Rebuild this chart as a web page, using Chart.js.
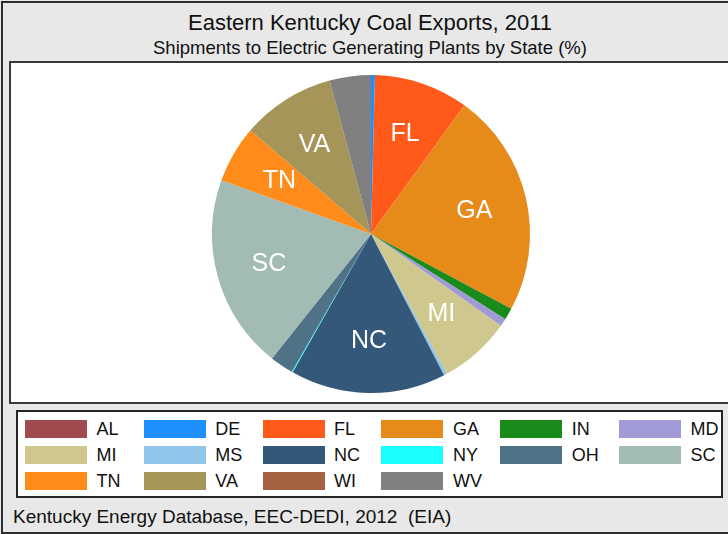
<!DOCTYPE html>
<html>
<head>
<meta charset="utf-8">
<script src="https://cdn.jsdelivr.net/npm/chart.js@4"></script>
<style>
	body { margin: 0; width: 728px; height: 534px; overflow: hidden; background: #e8e8e8; position: relative; font-family: "Liberation Sans", Arial, sans-serif; color: #111; }
	.frame { position: absolute; left: 1px; top: 1px; width: 760px; height: 529px; border: 2px solid #2e2e2e; }
	.txt { position: absolute; white-space: nowrap; }
	#title { left: 0; width: 740px; top: 12px; font-size: 22px; line-height: 22px; text-align: center; }
	#subtitle { left: 0; width: 740px; top: 39px; font-size: 18.5px; line-height: 18.5px; text-align: center; }
	.plot { position: absolute; left: 9px; top: 61px; width: 760px; height: 339px; border: 2px solid #3a3a3a; background: #fff; }
	#wrap { position: absolute; left: 11px; top: 63px; width: 720px; height: 339px; }
	.legend { position: absolute; left: 16px; top: 410px; width: 703px; height: 84px; border: 2px solid #262626; background: #fff; }
	.swatch { position: absolute; width: 62px; height: 18px; }
	.lab { position: absolute; font-size: 18px; line-height: 18px; }
	#footer { left: 13px; top: 507px; font-size: 19px; line-height: 19px; }
</style>
</head>
<body>
	<div class="frame"></div>
	<div class="txt" id="title">Eastern Kentucky Coal Exports, 2011</div>
	<div class="txt" id="subtitle">Shipments to Electric Generating Plants by State (%)</div>
	<div class="plot"></div>
	<div id="wrap"><canvas id="myChart"></canvas></div>
	<div class="legend"></div>
	<div id="legend-items"></div>
	<div class="txt" id="footer">Kentucky Energy Database, EEC-DEDI, 2012&nbsp;&nbsp;(EIA)</div>

<script>
	// states in legend / slice order (clockwise from 12 o'clock)
	const states = ['AL', 'DE', 'FL', 'GA', 'IN', 'MD', 'MI', 'MS', 'NC', 'NY', 'OH', 'SC', 'TN', 'VA', 'WI', 'WV'];
	// share of shipments, percent
	const shares = [0, 0.4, 9.6, 22.8, 1.2, 0.8, 7.3, 0.3, 15.8, 0.1, 2.4, 19.8, 5.8, 9.5, 0, 4.2];
	const stateColors = ['#a04a50', '#1e8fff', '#ff5a1a', '#e68a1a', '#1a8a1a', '#a09ad6', '#cfc88e', '#91c6ea',
		'#33587a', '#1affff', '#4f7287', '#a2bbb5', '#ff8c1a', '#a69558', '#a66242', '#808080'];

	const labelMin = 5; // only slices this big get a name inside

	// slice names, drawn at 2/3 of the radius
	const sliceLabels = {
		id: 'sliceLabels',
		afterDatasetsDraw(chart) {
			const ctx = chart.ctx;
			const meta = chart.getDatasetMeta(0);
			ctx.save();
			ctx.fillStyle = '#fff';
			ctx.font = '25px "Liberation Sans", Arial, sans-serif';
			ctx.textAlign = 'center';
			ctx.textBaseline = 'middle';
			meta.data.forEach((arc, i) => {
				if (shares[i] < labelMin) return;
				const a = (arc.startAngle + arc.endAngle) / 2;
				const r = arc.outerRadius * 0.667;
				ctx.fillText(states[i], arc.x + Math.cos(a) * r, arc.y + Math.sin(a) * r + 1);
			});
			ctx.restore();
		}
	};

	const canvas = document.getElementById('myChart');
	const myChart = new Chart(canvas.getContext('2d'), {
		type: 'pie',
		data: {
			labels: states,
			datasets: [{
				data: shares,
				backgroundColor: stateColors,
				borderWidth: 0
			}]
		},
		options: {
			responsive: true,
			maintainAspectRatio: false,
			animation: false,
			events: [],
			layout: {
				padding: { top: 12, bottom: 9, left: 0, right: 0 }
			},
			plugins: {
				legend: { display: false },
				tooltip: { enabled: false }
			}
		},
		plugins: [sliceLabels]
	});

	// legend grid built from the chart's own legend items
	const items = Chart.overrides.pie.plugins.legend.labels.generateLabels(myChart);
	const holder = document.getElementById('legend-items');
	items.forEach((item, i) => {
		const col = i % 6, row = Math.floor(i / 6);
		const x = 25 + col * 118.8;
		const y = 420 + row * 25.8;
		const sw = document.createElement('div');
		sw.className = 'swatch';
		sw.style.left = x + 'px';
		sw.style.top = y + 'px';
		sw.style.background = item.fillStyle;
		holder.appendChild(sw);
		const lb = document.createElement('div');
		lb.className = 'lab';
		lb.style.left = (x + 71.5) + 'px';
		lb.style.top = y + 'px';
		lb.textContent = item.text;
		holder.appendChild(lb);
	});
</script>
</body>
</html>
